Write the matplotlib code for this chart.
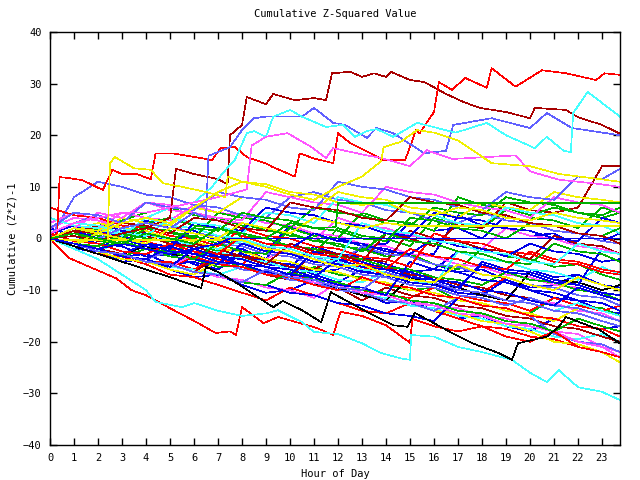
import matplotlib
matplotlib.use('Agg')
import matplotlib.pyplot as plt

# gnuplot-like colours
RED = '#ff0000'
GREEN = '#00b000'
BLUE = '#0000e8'
MAGENTA = '#ff55ff'
CYAN = '#44ffff'
DARKRED = '#a80000'
YELLOW = '#f0f000'
BLACK = '#000000'
SLATE = '#6060ff'

HOURS = list(range(24)) + [23.75]
XTICKS = list(range(24))
YTICKS = list(range(-40, 41, 10))

# hand-read traces with their own time stamps (hour, value)
top_h = [0, 1, 2, 3, 4, 5, 5.25, 6, 7, 7.4, 7.5, 8, 8.2, 9, 9.3, 10.2, 11, 11.5, 11.75, 12.5,
         13, 13.5, 14, 14.2, 15, 15.6, 16.5, 17.2, 17.9, 19, 20, 20.2, 21.5, 22, 23, 23.75]
top_v = [0, 0.5, -0.5, 1, 2, 4, 13.5, 12.5, 11.5, 10.5, 20, 22, 27.4, 26, 28, 26.8, 27.2, 26.8, 32, 32.3,
         31.3, 32, 31.3, 32.3, 30.7, 30.3, 28, 26.5, 25.3, 24.5, 23.3, 25.3, 24.9, 23.5, 22, 20.3]

red_hi_h = [0, 0.3, 0.4, 0.8, 1.35, 2.2, 2.6, 3, 3.6, 4.2, 4.4, 5.1, 6, 6.75, 7.1, 7.7, 8.2, 9, 9.3,
            10.2, 10.4, 11, 11.8, 12, 12.5, 13.9, 14.8, 15.25, 15.4, 16, 16.2, 16.75, 17.3, 18.2,
            18.4, 19.4, 20.5, 21.5, 22.75, 23.1, 23.75]
red_hi_v = [0, 1, 11.9, 11.7, 11.3, 9.4, 13.3, 12.5, 12.5, 11.5, 16.5, 16.5, 15.8, 15.2, 17.5, 17.7,
            15.8, 14.5, 13.8, 12, 16.5, 15.5, 14.6, 20.4, 18.5, 15.2, 15.2, 21, 20.4, 24.5, 30.3,
            28.8, 31.1, 29.2, 33, 29.4, 32.6, 32, 30.7, 32, 31.7]

slate_hi_h = [0, 1, 2, 3, 4, 5, 6, 6.5, 6.6, 7.5, 8, 8.5, 9, 10.5, 11, 11.8, 12.3, 13.2, 13.6,
              14.3, 15.6, 16.5, 16.8, 18.4, 20, 20.7, 21.75, 23.75]
slate_hi_v = [0, 1, 0, 2, 3, 2, 5, 4, 16, 17.7, 21, 23.3, 23.6, 23.6, 25.3, 22.4, 22, 19.5, 21.4,
              20.4, 16.5, 17, 22, 23.3, 21.4, 24.3, 21.4, 20]

cyan_hi_h = [0, 1, 2, 3, 4, 5, 6, 6.75, 7.2, 7.7, 8.2, 8.5, 9, 9.3, 10, 10.5, 11.5, 12.2, 12.7,
             13.2, 13.6, 14.3, 15.3, 16.9, 18.2, 19, 20.2, 20.7, 21.4, 21.7, 21.8, 22.4, 23.75]
cyan_hi_v = [0, -1, 1, 3, 4, 6, 7, 10, 12.7, 15.2, 20.4, 20.8, 19.7, 23.6, 24.9, 23.6, 21.6, 22,
             19.7, 20.8, 21.2, 19.7, 22.4, 20.5, 22.4, 20, 17.5, 19.7, 17, 16.7, 24.3, 28.4, 23.6]

mag_hi_h = [0, 1, 2, 3, 4, 5, 6, 7, 8.2, 8.4, 9, 9.9, 10.9, 11.5, 11.8, 13.2, 13.8, 15, 15.7,
            16.75, 18.3, 19.4, 20, 21.2, 22.8, 23.75]
mag_hi_v = [1, 3, 4, 5, 5, 6, 7, 8, 9.5, 18, 19.7, 20.4, 17.7, 15.6, 17.5, 16.1, 15.6, 14, 17.1,
            15.4, 15.8, 16.1, 13, 11.4, 10.6, 10]

yel_a_h = [0, 1, 2, 2.4, 2.5, 2.7, 3.5, 4.2, 4.7, 5.5, 6.5, 7.3, 7.4, 8, 9, 10, 11, 12, 13, 14,
           15, 16, 17, 18, 19, 20, 21, 22, 23, 23.75]
yel_a_v = [0, -1, 0, -0.5, 14.6, 15.8, 13.6, 13.3, 10.7, 10, 9, 8, 12, 11, 10.5, 9, 8.5, 7, 6.5, 7,
           5, 4.5, 6, 5.5, 4, 3.5, 5, 4, 3.5, 3]

yel_b_h = [0, 1, 2, 3, 4, 5, 6, 7, 8, 9, 10, 11, 12, 13, 13.8, 13.9, 14.6, 15.3, 16, 17, 18.4,
           20, 21.2, 23.75]
yel_b_v = [0, 2, 1, 3, 4, 3, 6, 9, 11, 10, 8.5, 7.5, 10, 12, 15, 17.7, 18.7, 21, 20.5, 19, 14.6,
           14, 12.5, 11]

red_lo_h = [0, 0.8, 1.75, 2.75, 3.4, 4, 5, 6.1, 6.9, 7.5, 7.75, 8, 8.9, 9.5, 11.1, 11.8, 12.1,
            13, 14, 15, 15.1, 16, 17, 18, 19, 20, 21, 22, 23, 23.75]
red_lo_v = [0, -3.8, -5.7, -7.7, -10, -11, -13.5, -16.2, -18.3, -18, -18.7, -13.3, -16.4, -15.2,
            -17.3, -18.7, -14.2, -15, -16.8, -20.2, -15.6, -17, -18, -17, -19, -20, -18, -21,
            -22, -23]

cyan_lo_h = [0, 1, 2, 3, 4, 4.4, 5.5, 6, 7, 8, 9, 9.5, 10.5, 11, 12, 13, 13.8, 14.6, 15, 15.05,
             16, 17, 18, 19.25, 20, 20.7, 21.2, 22, 23, 23.75]
cyan_lo_v = [0, -2, -4, -7, -10, -12.3, -13.3, -12.5, -14, -15, -14.5, -13.9, -16.2, -18.1, -18.5,
             -20.3, -22.2, -23.2, -23.5, -18.7, -19, -21, -22, -23.5, -26, -27.8, -25.5, -28.8,
             -29.7, -31.3]

black_h = [0, 1, 2, 3, 4, 5, 6.3, 6.5, 7, 7.7, 8.1, 9.3, 9.7, 10.5, 11.3, 11.7, 13.2, 14.3, 14.9,
           15.2, 16.75, 17.6, 18.7, 19.25, 19.5, 20.7, 21.2, 21.5, 22.9, 23.75]
black_v = [0, -1.5, -3, -4.5, -6, -7.5, -9.6, -5.5, -6.5, -8.4, -9.6, -13.3, -12.1, -13.9, -16.2,
           -10.4, -14.2, -16.8, -17.1, -14.4, -18.3, -20.3, -22.2, -23.5, -20.3, -19, -17.1,
           -15.2, -17.7, -20.3]

# traces that go flat
yflat_lo_h = [0, 8, 9, 10, 11, 12, 13, 14, 15, 16, 17, 18, 19, 20, 21, 22, 23, 23.75]
yflat_lo_v = [-0.3, -0.3, -2, -2.5, -4, -5.5, -5, -7, -8, -8.5, -5, -7, -7.5, -9, -10, -7.5, -9, -10]
yflat_hi_h = [0, 1, 2, 3, 4, 5, 6, 7, 8, 9, 10, 11, 12, 13, 14, 15, 23.75]
yflat_hi_v = [0, -1, 1, 0, -1, 2, 1, 0, 3, 2, 1, 4, 3, 2, 3, 2.4, 2.4]
bflat_h = [0, 1, 2, 3, 4, 5, 6, 7, 7.5, 23.75]
bflat_v = [0, -1, -2, -1, -2, -3, -2, -1, 0, 0]
gflat_h = [0, 1, 2, 3, 4, 5, 6, 7, 8, 9, 10, 11, 11.9, 12, 23.75]
gflat_v = [0, 1, 0, -1, 1, 0, -1, 2, 1, 0, 3, 2, 2.2, 6.9, 6.9]

# hourly traces
g01 = [0, -1.5, -2, -3.5, -3, -5, -4.5, -6, -3, -4.5, -5, -7, -8.5, -6, -7.5, -7, -9, -10.5, -11, -8, -10, -11.5, -12, -14, -14.5]
g02 = [0, -1, -2.5, 1.5, 0, -0.5, -2, -3.5, -3, -5, -5.5, -1.5, -3, -3.5, -5, -6.5, -6, -2.5, -4, -4.5, -6, -7.5, -7, -9, -9.5]
g03 = [1, 2.5, 1, 0.5, 3.5, 2, 1.5, -0.5, -1, -2.5, 2.5, 1, 0.5, -1.5, -1, 3, 1.5, 2, 0, 4.5, 3, 2.5, 1, -0.5, 1]
g04 = [0, -2, -2.5, -4.5, -4, -6, -7.5, -7, -9, -10.5, -10, -8, -10, -10.5, -12.5, -12, -14, -15.5, -15, -17, -18, -15.5, -17, -17.5, -19]
g05 = [0, 1.5, 3, 1.5, 1, -0.5, -1, -2.5, -2, -4, 2.5, 0.5, 0, -1.5, -2, -3.5, -3, 4.5, 2.5, 2, 0.5, 1, -1.5, -2, -3]
g06 = [2, 0.5, -1, -1.5, -3.5, -3, -5, -6, -2.5, -4, -4.5, -6.5, -6, -1.5, -3.5, -3, -5, -6.5, -6, -8, -9.5, -9, -7, -9, -10]
g07 = [0, -1, 2, 3.5, 5, 6, 4.5, 4, 2.5, 2, 0.5, 0, -1.5, -2, -3.5, -3, -5, -6, -2, -3.5, -4, -5.5, -5, -7, -8]
g08 = [0, -1.5, -2, -3.5, -2, -3.5, -4, -5.5, -5, -7, -8, -5.5, -7, -7.5, -9, -10, -9.5, -12, -12.5, -14, -14.5, -11.5, -13, -13.5, -15]
g09 = [0, 1.5, 0, -0.5, -2, -2.5, -1, -2.5, 0.5, -1, -1.5, -3, 2, 0.5, 0, -1.5, 4, 2.5, 2, 5.5, 4, 3.5, 2, 6, 5]
g10 = [0, -1.5, -3, -3.5, -5, -7, -7.5, -9, -10.5, -12, -9.5, -11, -12.5, -14, -14.5, -12.5, -14, -15.5, -17, -17.5, -19, -19.5, -21, -22, -23]
g11 = [0, 2, 1.5, 0, -0.5, -2, -2.5, -4, -5, -1.5, -3, -3.5, -5, -5.5, -7, -7.5, -9, -10, -10.5, -7.5, -9, -9.5, -11, -11.5, -13]
g12 = [0, -1, -2.5, -3, -4.5, -4.5, -6, -3.5, -5, -5.5, -7, -8, -8.5, -10, -11, -11.5, -9.5, -11, -12, -12.5, -14, -11.5, -13, -14, -13]
g13 = [0, -1.5, -2, -3.5, -4, -5.5, -6, -7.5, -8, -9.5, -10, -11.5, -8.5, -10, -10.5, -12, -13, -13.5, -15, -15.5, -17, -18, -18.5, -21, -22]
g14 = [2, 4, 3.5, 2, 1.5, 0, -0.5, -2, -2.5, -4, -1.5, -3, -3.5, -5, -6, -6.5, -8, -8.5, -10, -10.5, -12, -12.5, -14, -14.5, -16]
g15 = [0, 1.5, 2, 5, 4, 3.5, 6.5, 5, 4.5, 3, 2.5, 1, 0.5, -1, -1.5, -3, -3.5, -5, -5.5, -7, -7.5, -9, -9.5, -11, -12]
g16 = [0, -1, -2.5, -0.5, -2, -2.5, -4, -2.5, -4, -4.5, -6, -6.5, -8, -8.5, -6.5, -8, -8.5, -10, -10.5, -12, -12.5, -14, -12.5, -14, -15]
g17 = [0, -1.5, -2, -3.5, -4, -5.5, -6, -7, -5.5, -7, -7.5, -9, -9.5, -11, -11.5, -13, -13.5, -15, -15.5, -17, -17.5, -19, -19.5, -18.5, -20]
g18 = [0, -1, -2.5, -3, -4.5, -5, -6.5, -3.5, -5, -6.5, -7.5, -9, -9.5, -12, -9.5, -11, -11.5, -13, -13.5, -15, -15.5, -17, -17.5, -19, -20]
g19 = [0, 1.5, 0, -0.5, 1.5, 0, -1, -2, -3.5, -4, -5.5, -6, -3.5, -5, -5.5, -7, -7.5, -9, -9.5, -11, -11.5, -13, -13.5, -15, -16]
g20 = [0, -1.5, -2, -3, -1.5, -3, -3.5, -5, -5.5, -7, -8, -2, -3, -4, -4.5, 1.5, 0, -0.5, -2, -2.5, -4, 0.5, -1, -1.5, -3]
g21 = [0, -1, -2.5, -4, -4.5, -6, -7, -4.5, -6, -6.5, -8, -8.5, -10, -10.5, -12, -12.5, -14, -14.5, -16, -16.5, -18, -20, -20.5, -22, -24]
g22 = [0, 1.5, 3, 2, 1.5, 0, -0.5, -2, -2.5, -4, -4.5, -6, -6.5, -8, -8.5, -10, -10.5, -12, -12.5, -14, -14.5, -16, -13.5, -15, -16]
g23 = [0, -1, -2.5, -3, -1.5, -3, -3.5, -5, -5.5, -7, -7.5, -9, -9.5, -11, -12, -7.5, -9, -9.5, -11, -12, -6.5, -8, -8.5, -10, -9]
g24 = [0, -1.5, -2, -3.5, -4, -2.5, -4, -4.5, -6, -6.5, -8, -8.5, -10, -10.5, -12, -12.5, -14, -11.5, -13, -13.5, -15, -18.5, -20, -20.5, -22]
g25 = [0, 2, 1, 4, 3, 2.5, 1, 0.5, -1, -1.5, -3, -3.5, -5, -1.5, -3, -3.5, -5, -5.5, -7, -7.5, -9, -9.5, -11, -11.5, -13]
g26 = [1, 3, 4.5, 3, 2.5, 1, 0.5, -1, -1.5, -3, -3.5, -5, -5.5, -7, -7.5, -9, -9.5, -11, -11.5, -13, -11.5, -13, -13.5, -15, -16]
g27 = [0, -1, -2.5, -3, -4.5, -5, -6.5, -7, -8.5, -9, -10.5, -11, -12.5, -13, -14.5, -15, -16, -11.5, -13, -13.5, -15, -15.5, -17, -17.5, -17]
g28 = [0, 1.5, 2, 0.5, 3, 4, 2.5, 2, 0.5, 0, -1.5, -2, -3.5, -4, -5.5, -6, -7.5, -8, -9, -6.5, -8, -8.5, -10, -10.5, -12]
g29 = [0, -1.5, -2, -3.5, -4, -5.5, -3.5, -5, -5.5, -7, -7.5, -9, -10, -7.5, -9, -9.5, -11, -11.5, -13, -13.5, -15, -15.5, -17, -17.5, -19]
g30 = [0, 1, -0.5, 2, 0.5, 0, -1.5, -2, -0.5, -2, -2.5, -4, -4.5, -6, -6.5, -8, -9, -2.5, -4, -4.5, -6, -6.5, -8, -5.5, -7]
g31 = [0, -1.5, -2, -3.5, -4, -5.5, -3, -4.5, -5, -6.5, -7, -8.5, -9, -10.5, -11, -12.5, -13, -14.5, -15, -16.5, -17, -18, -20, -21, -23]
g32 = [0, -1, -2.5, -3, -4.5, -5, -6.5, -7, -8.5, -9, -6.5, -8, -8.5, -10, -10.5, -12, -12.5, -14, -14.5, -16, -16.5, -18, -15.5, -17, -18]
g33 = [0, 1.5, 0, -0.5, -2, -2.5, -4, -5, -1, -2.5, -3, -4.5, -5, -6.5, -7, -8.5, -9, -10, -4.5, -6, -6.5, -8, -9, -2, -3]
g34 = [0, -1.5, -2, -3.5, -4, -1.5, -3, -3.5, -5, -5.5, -7, -7.5, -9, -9.5, -11, -4.5, -6, -6.5, -8, -8.5, -10, -10.5, -12, -12.5, -14]
g35 = [0, 1, 2.5, 1, 0.5, -1, -1.5, -3, -3.5, -5, -1, -2.5, -3, -4.5, 1, 0, -1.5, 3, 2, 7, 5.5, 5, 6, 14, 14]
g36 = [0, -1.5, -2, -0.5, -2, -2.5, -4, -1, -2.5, -3, 2, 0.5, 0, 5, 3.5, 3, 1.5, 8, 6.5, 6, 4.5, 6, 5, 4, 5]
g37 = [0, 8, 11, 10, 8.5, 8, 6.5, 6, 4.5, 4, 8, 9, 7.5, 7, 5.5, 5, 3.5, 3, 5, 3.5, 3, 1.5, 1, -0.5, -1]
g38 = [3, 5, 3.5, 3, 7, 5.5, 5, 3.5, 3, 1.5, 1, -0.5, 4, 2.5, 2, 0.5, 0, -1.5, -2, 2, 0.5, 0, -1.5, -2, -3]
g39 = [0, -1, -2.5, -3, -1, -2.5, -3, -4.5, -5, -6.5, -7, -2.5, -4, -4.5, -6, -6.5, -8, -8.5, -10, -10.5, -12, -13, -9.5, -11, -12]
g40 = [6, 4.5, 4, 2.5, 2, 0.5, 0, -1.5, 2, 0.5, 0, -1.5, -2, -3.5, -4, -5.5, 1, -0.5, -1, -2.5, -3, -4.5, -5, -6.5, -7]
g41 = [0, -1, 1.5, 0.5, -1, -1.5, 2, 0.5, 0, -1.5, -2, 1, -0.5, -1, -2.5, -3, 0, -1.5, -2, -3.5, -1, -2.5, -3, -4.5, -4]
g42 = [1, -0.5, -1, -2.5, -3, -1, -2.5, -3, 0.5, -1, -1.5, -3, -3.5, -5, -6, -2, -3.5, -4, -5.5, -6, -2.5, -4, -4.5, -6, -6.5]
g43 = [0, -1.5, -2, -3.5, -4, -5.5, -2, -3.5, -4, -5.5, -6, -7.5, -4, -5.5, -6, -7.5, -8, -9.5, -5, -6.5, -7, -8.5, -9, -10.5, -11]
g44 = [0, 2, 0.5, 0, 2.5, 1, 0.5, -1, 3, 1.5, 1, -0.5, -1, -2.5, 1, -0.5, -1, -2.5, -3, -4.5, -5, -1, -2.5, -3, -4.5]
g45 = [0, -1, -2.5, -3, -4.5, -5, -6.5, -7, -8.5, -6, -7.5, -8, -9.5, -10, -6.5, -8, -8.5, -10, -10.5, -12, -12.5, -14, -14.5, -16, -17]
g46 = [4, 2.5, 2, 0.5, 4, 2.5, 2, 0.5, 0, -1.5, -2, -3.5, -4, 3, 1.5, 1, -0.5, -1, -2.5, -3, -4.5, -5, -1, -2.5, -3]
g47 = [0, 1, -0.5, -1, 2, 1.5, 0, 5, 4, 3.5, 2, 6, 5, 4.5, 3, 2.5, 6, 5, 4.5, 8, 7, 6.5, 5, 4.5, 6]
g48 = [0, 2, 1.5, 4, 3, 2.5, 6, 5, 8, 7.5, 6, 5.5, 9, 8, 7.5, 6, 5.5, 4, 7, 6, 5.5, 9, 8, 7.5, 7]
g49 = [0, 2, 5, 4, 7, 6.5, 5, 4, 3.5, 9, 8, 7, 6.5, 5, 10, 9, 8.5, 7, 6, 5.5, 4, 8, 7, 6.5, 5]
g50 = [0, -1, 1, 0, -1.5, -2, 3, 2, 1.5, 6, 5, 4.5, 3, 2.5, 1, 0.5, 5, 4, 3.5, 2, 1.5, 0, -0.5, 4, 3]
g51 = [1, 3, 2.5, 1, 0.5, 4, 3, 2.5, 1, 5, 4.5, 3, 8, 7, 6.5, 5, 4.5, 3, 2.5, 6, 5, 4.5, 3, 2.5, 1]
g52 = [0, -1, -1.5, 1, 0, -0.5, 2, 1.5, 5, 4, 3.5, 2, 1.5, 0, -0.5, 4, 3.5, 2, 1.5, 0, 3, 2.5, 1, 0.5, 2]
g53 = [2, 5, 4.5, 3, 7, 6, 5.5, 9, 8, 7.5, 6, 5.5, 11, 10, 9.5, 8, 7.5, 6, 5.5, 9, 8, 7.5, 12, 11.5, 13.5]
g54 = [0, 1.5, 1, 3, 2.5, 1, 4, 3.5, 2, 1.5, 7, 6, 5.5, 4, 3.5, 8, 7, 6.5, 5, 4.5, 3, 2.5, 1, 0.5, -1]

traces = [
    (top_h, top_v, DARKRED), (red_hi_h, red_hi_v, RED), (slate_hi_h, slate_hi_v, SLATE),
    (cyan_hi_h, cyan_hi_v, CYAN), (mag_hi_h, mag_hi_v, MAGENTA), (yel_a_h, yel_a_v, YELLOW),
    (yel_b_h, yel_b_v, YELLOW), (red_lo_h, red_lo_v, RED), (cyan_lo_h, cyan_lo_v, CYAN),
    (black_h, black_v, BLACK), (yflat_lo_h, yflat_lo_v, YELLOW), (yflat_hi_h, yflat_hi_v, YELLOW),
    (bflat_h, bflat_v, BLUE), (gflat_h, gflat_v, GREEN),
]
hourly = [
    (g01, BLUE), (g02, BLUE), (g03, BLUE), (g04, BLUE), (g05, BLUE), (g06, BLUE),
    (g07, GREEN), (g08, GREEN), (g09, GREEN), (g10, RED), (g11, RED), (g12, RED),
    (g13, MAGENTA), (g14, MAGENTA), (g15, MAGENTA), (g16, CYAN), (g17, CYAN),
    (g18, DARKRED), (g19, DARKRED), (g20, DARKRED), (g21, YELLOW), (g22, YELLOW),
    (g23, BLACK), (g24, SLATE), (g25, SLATE), (g26, SLATE), (g27, BLUE), (g28, GREEN),
    (g29, RED), (g30, CYAN), (g31, MAGENTA), (g32, GREEN), (g33, BLUE), (g34, BLUE),
    (g35, DARKRED), (g36, GREEN), (g37, SLATE), (g38, MAGENTA), (g39, BLUE), (g40, RED),
    (g41, BLUE), (g42, RED), (g43, BLUE), (g44, GREEN), (g45, SLATE), (g46, CYAN),
    (g47, GREEN), (g48, YELLOW), (g49, MAGENTA), (g50, BLUE), (g51, CYAN), (g52, GREEN),
    (g53, SLATE), (g54, DARKRED),
]

plt.rcParams['font.family'] = ['DejaVu Sans Mono']

fig = plt.figure(figsize=(6.4, 4.8), dpi=100)
ax = fig.add_axes([50 / 640, 35 / 480, 570 / 640, 413 / 480])

# gnuplot draws 1px jagged lines, so no antialiasing
for vals, col in hourly:
    ax.plot(HOURS, vals, color=col, lw=0.45, antialiased=False)
for h, v, col in traces:
    ax.plot(h, v, color=col, lw=0.45, antialiased=False)

ax.set_xlim(0, 23.75)
ax.set_ylim(-40, 40)
ax.set_xticks(XTICKS)
ax.set_xticklabels([str(t) for t in XTICKS])
ax.set_yticks(YTICKS)
ax.tick_params(direction='in', top=True, right=True, length=5, width=1, labelsize=7.5, pad=6)
for s in ax.spines.values():
    s.set_linewidth(1)

ax.set_title('Cumulative Z-Squared Value', fontsize=7.5, pad=11)
ax.set_xlabel('Hour of Day', fontsize=7.5, labelpad=4)
ax.set_ylabel('Cumulative (Z*Z)-1', fontsize=7.5, labelpad=4)

fig.savefig('out.png', dpi=100)
